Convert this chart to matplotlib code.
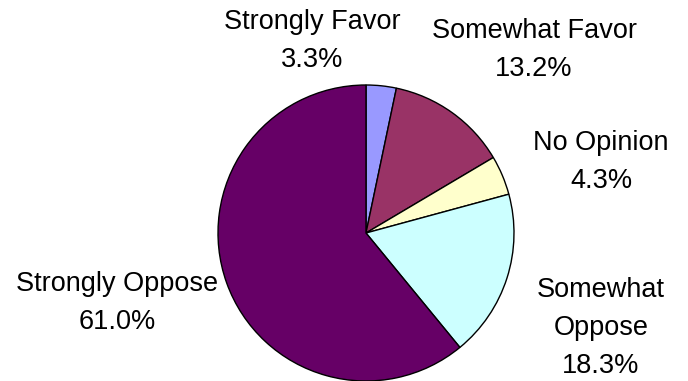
import matplotlib.pyplot as plt

labels = ['Strongly Favor', 'Somewhat Favor', 'No Opinion', 'Somewhat\nOppose', 'Strongly Oppose']
shares = [3.3, 13.2, 4.3, 18.3, 61.0]
colors = ['#9999FF', '#993366', '#FFFFCC', '#CCFFFF', '#660066']

# label block centres in pixel coordinates (y measured from the top)
label_pos = [(312, 41), (534, 50), (601, 162), (601, 328), (117, 303)]

W, H = 688, 381
fig = plt.figure(figsize=(W / 100, H / 100), dpi=100)
ax = fig.add_axes([0, 0, 1, 1])

ax.pie(shares, colors=colors, startangle=90, counterclock=False,
       center=(366, H - 233), radius=148, frame=True,
       wedgeprops=dict(edgecolor='black', linewidth=1.0))
ax.set_xlim(0, W)
ax.set_ylim(0, H)
ax.set_aspect('equal')
ax.axis('off')

for lab, val, (x, y) in zip(labels, shares, label_pos):
    ax.text(x, H - y, f'{lab}\n{val:.1f}%', ha='center', va='center',
            fontsize=19.5, family='Liberation Sans', linespacing=1.58)

fig.savefig('out.png', dpi=100)
